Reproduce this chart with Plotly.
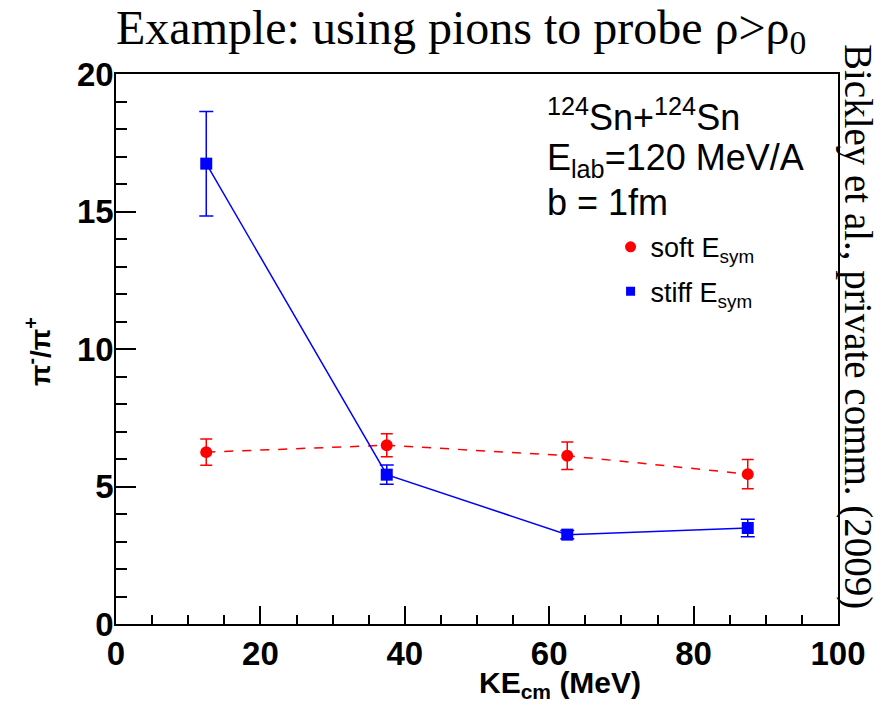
import plotly.graph_objects as go

ke = [12.5, 37.5, 62.5, 87.5]
soft = [6.25, 6.5, 6.12, 5.45]
soft_err = [0.48, 0.42, 0.5, 0.53]
stiff = [16.74, 5.43, 3.25, 3.49]
stiff_err = [1.9, 0.35, 0.15, 0.32]

RED = "#ff0000"
BLUE = "#0000ff"

fig = go.Figure()
fig.add_trace(go.Scatter(
    x=ke, y=soft, mode="lines+markers", showlegend=False,
    line=dict(color=RED, width=1.5, dash="dash"),
    marker=dict(symbol="circle", size=12, color=RED),
    error_y=dict(type="data", array=soft_err, color=RED, thickness=1.5, width=6),
))
fig.add_trace(go.Scatter(
    x=ke, y=stiff, mode="lines+markers", showlegend=False,
    line=dict(color=BLUE, width=1.5),
    marker=dict(symbol="square", size=12, color=BLUE),
    error_y=dict(type="data", array=stiff_err, color=BLUE, thickness=1.5, width=7),
))
# legend entries (marker only)
fig.add_trace(go.Scatter(
    x=[None], y=[None], mode="markers", name="soft E<sub>sym</sub>",
    marker=dict(symbol="circle", size=11, color=RED), legend="legend",
))
fig.add_trace(go.Scatter(
    x=[None], y=[None], mode="markers", name="stiff E<sub>sym</sub>",
    marker=dict(symbol="square", size=9, color=BLUE), legend="legend2",
))

tickfont = dict(family="Liberation Sans, Arial", size=33, color="black", weight="bold")

fig.update_layout(
    width=882, height=707,
    margin=dict(l=116, r=44, t=74, b=83),
    paper_bgcolor="white", plot_bgcolor="white",
    showlegend=True,
    legend=dict(x=0.685, y=0.685, xanchor="left", yanchor="middle",
                font=dict(family="Liberation Sans, Arial", size=27, color="black"),
                bgcolor="rgba(0,0,0,0)", itemwidth=30),
    legend2=dict(x=0.685, y=0.604, xanchor="left", yanchor="middle",
                 font=dict(family="Liberation Sans, Arial", size=27, color="black"),
                 bgcolor="rgba(0,0,0,0)", itemwidth=30),
    xaxis=dict(range=[0, 100], showgrid=False, zeroline=False,
               showline=True, linecolor="black", linewidth=1.5, mirror=True,
               ticks="inside", ticklen=18, tickwidth=1.5, tickcolor="black",
               dtick=20, tick0=0, tickfont=tickfont,
               minor=dict(dtick=5, ticks="inside", ticklen=9, tickwidth=1.5, tickcolor="black")),
    yaxis=dict(range=[0, 20], showgrid=False, zeroline=False,
               showline=True, linecolor="black", linewidth=1.5, mirror=True,
               ticks="inside", ticklen=20, tickwidth=1.5, tickcolor="black",
               dtick=5, tick0=0, tickfont=tickfont, ticklabelstandoff=-6,
               minor=dict(dtick=1, ticks="inside", ticklen=11, tickwidth=1.5, tickcolor="black")),
)

serif = "Liberation Serif, Times New Roman"
sans = "Liberation Sans, Arial"
annos = [
    dict(text="Example: using pions to probe ρ>ρ<sub>0</sub>", x=461, y=31, size=48, family=serif, angle=0),
    dict(text="Bickley et al., private comm. (2009)", x=858, y=326, size=39, family=serif, angle=90),
    dict(text="<b>KE<sub>cm</sub> (MeV)</b>", x=560, y=684, size=30, family=sans, angle=0),
    dict(text="<b>π<sup>-</sup>/π<sup>+</sup></b>", x=38, y=352, size=28, family=sans, angle=-90),
]
for a in annos:
    fig.add_annotation(text=a["text"], xref="paper", yref="paper",
                       x=(a["x"] - 116) / 722, y=(624 - a["y"]) / 550,
                       xanchor="center", yanchor="middle", showarrow=False,
                       textangle=a["angle"],
                       font=dict(family=a["family"], size=a["size"], color="black"))

info = [
    ("<sup>124</sup>Sn+<sup>124</sup>Sn", 115),
    ("E<sub>lab</sub>=120 MeV/A", 160),
    ("b = 1fm", 203),
]
for t, yy in info:
    fig.add_annotation(text=t, xref="paper", yref="paper",
                       x=(545 - 116) / 722, y=(624 - yy) / 550,
                       xanchor="left", yanchor="middle", showarrow=False,
                       font=dict(family=sans, size=36, color="black"))

fig.write_html("out.html")
